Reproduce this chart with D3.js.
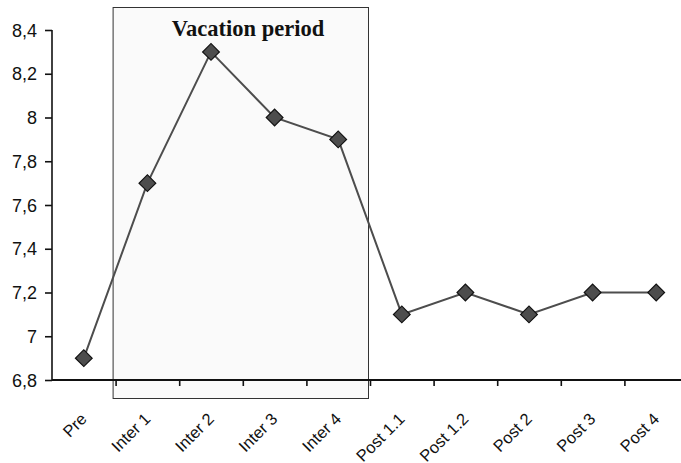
<!DOCTYPE html>
<html><head><meta charset="utf-8">
<script src="https://cdn.jsdelivr.net/npm/d3@7"></script>
<style>body{margin:0;background:#fff}svg{display:block}</style>
</head><body><svg id="c" width="681" height="463"></svg>
<script>
const categories = ["Pre","Inter 1","Inter 2","Inter 3","Inter 4","Post 1.1","Post 1.2","Post 2","Post 3","Post 4"];
const values = [6.9, 7.7, 8.3, 8.0, 7.9, 7.1, 7.2, 7.1, 7.2, 7.2];
const yTicks = [6.8, 7.0, 7.2, 7.4, 7.6, 7.8, 8.0, 8.2, 8.4];
const yTickLabels = ["6,8","7","7,2","7,4","7,6","7,8","8","8,2","8,4"];
const vacationCats = ["Inter 1","Inter 4"];
const vacationLabel = "Vacation period";

(function(){
const svg = d3.select("#c");
const mLeft = 52, mRight = 688, mTop = 30, mBottom = 380;
const x = d3.scaleBand().domain(categories).range([mLeft, mRight]).padding(0);
const y = d3.scaleLinear().domain([6.8, 8.4]).range([mBottom, mTop]);
const cx = d => x(d) + x.bandwidth()/2;

// vacation box
const vx0 = x(vacationCats[0]) - 3, vx1 = x(vacationCats[1]) + x.bandwidth() - 2;
svg.append("rect").attr("x", vx0 + 0.5).attr("y", 7.5)
  .attr("width", vx1 - vx0).attr("height", 398 - 7)
  .attr("fill", "#fafafa").attr("stroke", "#333").attr("stroke-width", 1);
svg.append("text").attr("x", 248).attr("y", 36)
  .attr("text-anchor", "middle").attr("font-family", "Liberation Serif, Times New Roman, serif")
  .attr("font-weight", "bold").attr("font-size", 22.5).attr("fill", "#111").text(vacationLabel);

// y axis
const yAxis = svg.append("g").attr("transform", `translate(${mLeft},0)`)
  .call(d3.axisLeft(y).tickValues(yTicks).tickSize(7).tickPadding(8)
    .tickFormat((d,i) => yTickLabels[i]));
yAxis.select(".domain").attr("stroke", "#111").attr("stroke-width", 1.6).attr("d", `M0,${mTop}V${mBottom}`);
yAxis.selectAll(".tick line").attr("stroke", "#111").attr("stroke-width", 1.6);
yAxis.selectAll(".tick text").attr("font-family", "Liberation Sans, Arial, sans-serif")
  .attr("font-size", 18).attr("fill", "#111").attr("dy", "0.34em");

// x axis
const xg = svg.append("g").attr("transform", `translate(0,${mBottom})`);
xg.append("line").attr("x1", mLeft).attr("x2", 681).attr("y1", 0).attr("y2", 0)
  .attr("stroke", "#111").attr("stroke-width", 1.8);
xg.selectAll("line.tk").data(categories.slice(1)).enter().append("line").attr("class","tk")
  .attr("x1", d => x(d) + 0.5).attr("x2", d => x(d) + 0.5).attr("y1", 0).attr("y2", 6)
  .attr("stroke", "#111").attr("stroke-width", 1.6);
xg.selectAll("text").data(categories).enter().append("text")
  .attr("transform", d => `translate(${cx(d) + 4},${40}) rotate(-45)`)
  .attr("text-anchor", "end").attr("font-family", "Liberation Sans, Arial, sans-serif")
  .attr("font-size", 16.5).attr("fill", "#111").text(d => d);

// line
const data = categories.map((c,i) => ({c, v: values[i]}));
svg.append("path").datum(data)
  .attr("d", d3.line().x(d => cx(d.c)).y(d => y(d.v)))
  .attr("fill", "none").attr("stroke", "#4d4d4d").attr("stroke-width", 2);
svg.selectAll("path.m").data(data).enter().append("path").attr("class","m")
  .attr("d", d3.symbol(d3.symbolSquare, 140)())
  .attr("transform", d => `translate(${cx(d.c)},${y(d.v)}) rotate(45)`)
  .attr("fill", "#4d4d4d").attr("stroke", "#111").attr("stroke-width", 1.2);
})();
</script></body></html>
